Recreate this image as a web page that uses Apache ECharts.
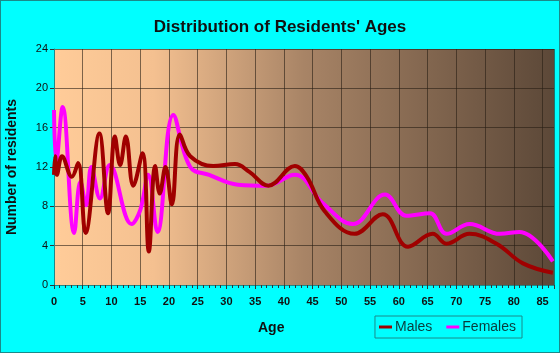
<!DOCTYPE html>
<html>
<head>
<meta charset="utf-8">
<script src="https://cdn.jsdelivr.net/npm/echarts@6/dist/echarts.min.js"></script>
<style>
  html, body { margin: 0; padding: 0; }
  #main { width: 558px; height: 351px; border: 1px solid #1a8a8a; background: #00ffff; }
</style>
</head>
<body>
<div id="main"></div>
<script>
// ages and counts
var maleAges = [0, 0.2, 0.5, 1.4, 3.1, 4.2, 5.5, 7.9, 9.4, 10.6, 11.5, 12.5, 13.8, 15.4, 16.5, 17.6, 18.4, 19.4, 20.5, 21.9, 23.7, 27.7, 31.5, 34, 37.3, 41.9, 44, 47.1, 52.3, 57.2, 61.6, 65.9, 68.3, 72.3, 77, 81.6, 86.8];
var maleCounts = [11.2, 13.1, 11.2, 13.1, 11.0, 12.4, 5.3, 15.4, 7.3, 15.1, 12.2, 15.1, 10.1, 13.4, 3.4, 12.1, 9.3, 12.0, 8.2, 15.3, 13.1, 12.1, 12.3, 11.5, 10.1, 12.1, 11.0, 7.5, 5.2, 7.2, 3.9, 5.2, 4.2, 5.2, 4.2, 2.2, 1.25];
var femaleAges = [0, 0.4, 1.5, 3.5, 4.6, 5.6, 6.5, 8, 9.7, 13.5, 15, 16.4, 18, 20.75, 23.7, 27, 32, 37, 41.9, 46.8, 52, 57.6, 61.3, 65.4, 68.3, 72.3, 77.6, 81, 86.8];
var femaleCounts = [17.8, 12.5, 18.1, 5.3, 10.5, 8.1, 12.0, 8.8, 12.2, 6.2, 7.6, 11.2, 5.4, 17.3, 12.0, 11.2, 10.2, 10.1, 11.2, 8.3, 6.2, 9.2, 7.05, 7.3, 5.2, 6.2, 5.2, 5.4, 2.4];
var seriesNames = ['Males', 'Females'];

function pairs(xs, ys) {
  var out = [];
  for (var i = 0; i < xs.length; i++) out.push([xs[i], ys[i]]);
  return out;
}

var myChart = echarts.init(document.getElementById('main'));
var option = {
  backgroundColor: '#00ffff',
  animation: false,
  title: [
    {
      text: "Distribution of Residents' Ages",
      left: 'center',
      top: 13,
      textStyle: { fontFamily: 'Liberation Sans', fontSize: 17, fontWeight: 'bold', color: '#111' }
    },
    {
      text: 'Age',
      left: 252,
      top: 315,
      textStyle: { fontFamily: 'Liberation Sans', fontSize: 14, fontWeight: 'bold', color: '#111' }
    }
  ],
  legend: {
    data: seriesNames,
    right: 37,
    top: 315,
    padding: [4, 6, 4, 4],
    itemGap: 14,
    itemWidth: 13,
    itemHeight: 3,
    borderColor: '#1a8a8a',
    borderWidth: 1,
    icon: 'rect',
    textStyle: { fontFamily: 'Liberation Sans', fontSize: 14, color: '#0a3c3c', padding: [0, 0, 0, -2] }
  },
  grid: {
    left: 53,
    top: 48,
    right: 5,
    bottom: 67,
    outerBoundsMode: 'none',
    containLabel: false,
    show: true,
    borderWidth: 0,
    backgroundColor: new echarts.graphic.LinearGradient(0, 0, 1, 0, [
      { offset: 0, color: '#ffcc99' },
      { offset: 0.2, color: '#f4c090' },
      { offset: 0.5, color: '#a88466' },
      { offset: 1, color: '#5c4838' }
    ])
  },
  xAxis: {
    type: 'value',
    min: 0,
    max: 87,
    interval: 5,
    axisLine: { show: true, lineStyle: { color: '#1a8a8a', width: 1 } },
    axisTick: { show: true, length: 4, lineStyle: { color: '#333' } },
    minorTick: { show: true, splitNumber: 5, length: 3, lineStyle: { color: '#333' } },
    splitLine: { show: true, lineStyle: { color: 'rgba(40,30,20,0.6)', width: 1 } },
    axisLabel: {
      showMaxLabel: false,
      margin: 11,
      fontFamily: 'Liberation Sans',
      fontSize: 11,
      fontWeight: 'bold',
      color: '#111'
    }
  },
  yAxis: {
    type: 'value',
    min: 0,
    max: 24,
    interval: 4,
    name: 'Number of residents',
    nameLocation: 'middle',
    nameGap: 35,
    nameTextStyle: { fontFamily: 'Liberation Sans', fontSize: 14, fontWeight: 'bold', color: '#111' },
    axisLine: { show: true, lineStyle: { color: '#1a8a8a', width: 1 } },
    axisTick: { show: true, length: 4, lineStyle: { color: '#333' } },
    splitLine: { show: true, lineStyle: { color: 'rgba(40,30,20,0.6)', width: 1 } },
    axisLabel: { margin: 6, fontFamily: 'Liberation Sans', fontSize: 11, color: '#111' }
  },
  series: [
    {
      name: 'Males',
      type: 'line',
      smooth: 0.4,
      showSymbol: false,
      data: pairs(maleAges, maleCounts),
      itemStyle: { color: '#a00000' },
      lineStyle: { color: '#a00000', width: 4 },
      z: 3
    },
    {
      name: 'Females',
      type: 'line',
      smooth: 0.4,
      showSymbol: false,
      data: pairs(femaleAges, femaleCounts),
      itemStyle: { color: '#ff00ff' },
      lineStyle: { color: '#ff00ff', width: 4 },
      z: 2
    }
  ]
};
myChart.setOption(option);
</script>
</body>
</html>
